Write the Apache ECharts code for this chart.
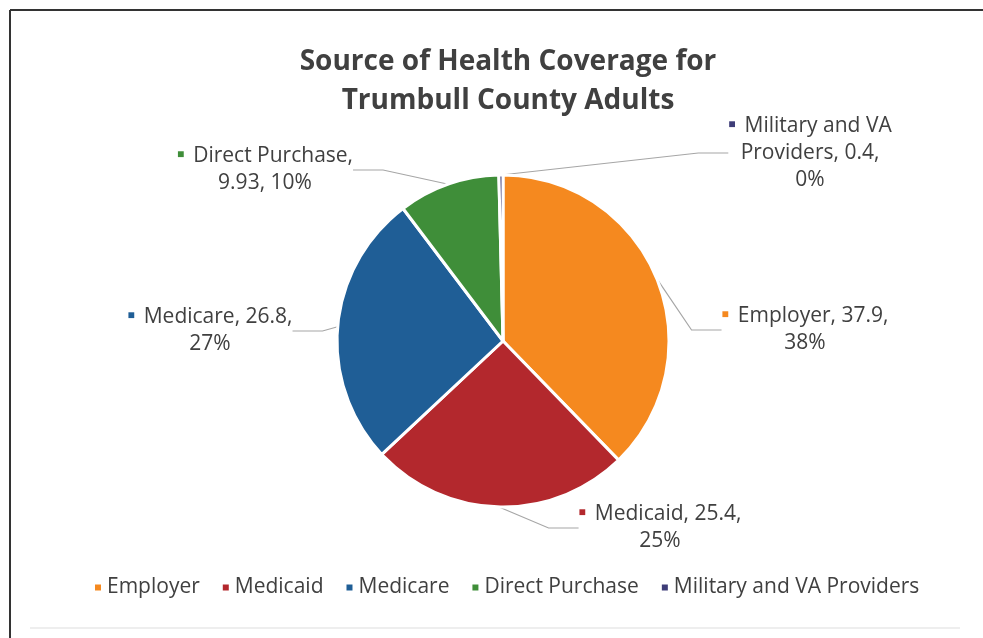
<!DOCTYPE html>
<html>
<head>
<meta charset="utf-8">
<script src="https://cdn.jsdelivr.net/npm/echarts@6/dist/echarts.min.js"></script>
<style>
html,body{margin:0;padding:0;background:#fff;}
#chart{width:983px;height:638px;}
</style>
</head>
<body>
<div id="chart"></div>
<script>
const categories = ['Employer', 'Medicaid', 'Medicare', 'Direct Purchase', 'Military and VA Providers'];
const values = [37.9, 25.4, 26.8, 9.93, 0.4];
const colors = ['#F5891F', '#B3282D', '#1F5E96', '#3F8E39', '#3E3D78'];
// where the label text wraps: 'value' => "name, value,\npct" ; 'name' => "name,\nvalue, pct" ; 'split' => three lines
const labelWrap = ['value', 'value', 'value', 'name', 'split'];
// label block centres (layout only)
const labelCenters = [[805, 330], [660, 528], [210, 331], [265, 170], [810, 153]];

const chart = echarts.init(document.getElementById('chart'));
const fontFam = '"Open Sans", "Noto Sans", sans-serif';

const data = categories.map((c, i) => ({ name: c, value: values[i], itemStyle: { color: colors[i] } }));
const rich = {};
colors.forEach((c, i) => { rich['m' + i] = { color: c, fontSize: 12, fontFamily: fontFam, padding: [0, 9, 3, 0] }; });
rich.t = { color: '#404040', fontSize: 21, fontFamily: fontFam, lineHeight: 27 };

chart.setOption({
  animation: false,
  backgroundColor: '#fff',
  title: {
    text: 'Source of Health Coverage for\nTrumbull County Adults',
    left: 503, top: 38, textAlign: 'center',
    textStyle: { color: '#404040', fontSize: 28, fontWeight: 'bold', fontFamily: fontFam, lineHeight: 39 }
  },
  legend: {
    bottom: 35, left: 88,
    icon: 'rect', itemWidth: 8, itemHeight: 8, itemGap: 21,
    textStyle: { color: '#404040', fontSize: 21, fontFamily: fontFam },
    data: categories
  },
  graphic: [
    { type: 'line', shape: { x1: 10, y1: 10, x2: 10, y2: 638 }, style: { stroke: '#333', lineWidth: 2 } },
    { type: 'line', shape: { x1: 10, y1: 10, x2: 983, y2: 10 }, style: { stroke: '#333', lineWidth: 2 } },
    { type: 'line', shape: { x1: 30, y1: 628, x2: 960, y2: 628 }, style: { stroke: '#ddd', lineWidth: 1 } }
  ],
  series: [{
    type: 'pie',
    center: [503, 341],
    radius: [0, 166],
    startAngle: 90,
    clockwise: true,
    percentPrecision: 0,
    data: data,
    itemStyle: { borderColor: '#fff', borderWidth: 3 },
    label: {
      show: true,
      position: 'outside',
      align: 'center',
      formatter: function (p) {
        const i = p.dataIndex;
        const m = '{m' + i + '|■}';
        const w = labelWrap[i];
        if (w === 'name') return m + '{t|' + p.name + ',}\n{t|' + p.value + ', ' + p.percent + '%}';
        if (w === 'split') return m + '{t|Military and VA}\n{t|Providers, ' + p.value + ',}\n{t|' + p.percent + '%}';
        return m + '{t|' + p.name + ', ' + p.value + ',}\n{t|' + p.percent + '%}';
      },
      rich: rich
    },
    labelLine: { show: true, length: 22, length2: 30, lineStyle: { color: '#A6A6A6', width: 1.2 } },
    labelLayout: function (params) {
      const c = labelCenters[params.dataIndex];
      return { x: c[0], y: c[1], align: 'center', verticalAlign: 'middle' };
    }
  }]
});
</script>
</body>
</html>
